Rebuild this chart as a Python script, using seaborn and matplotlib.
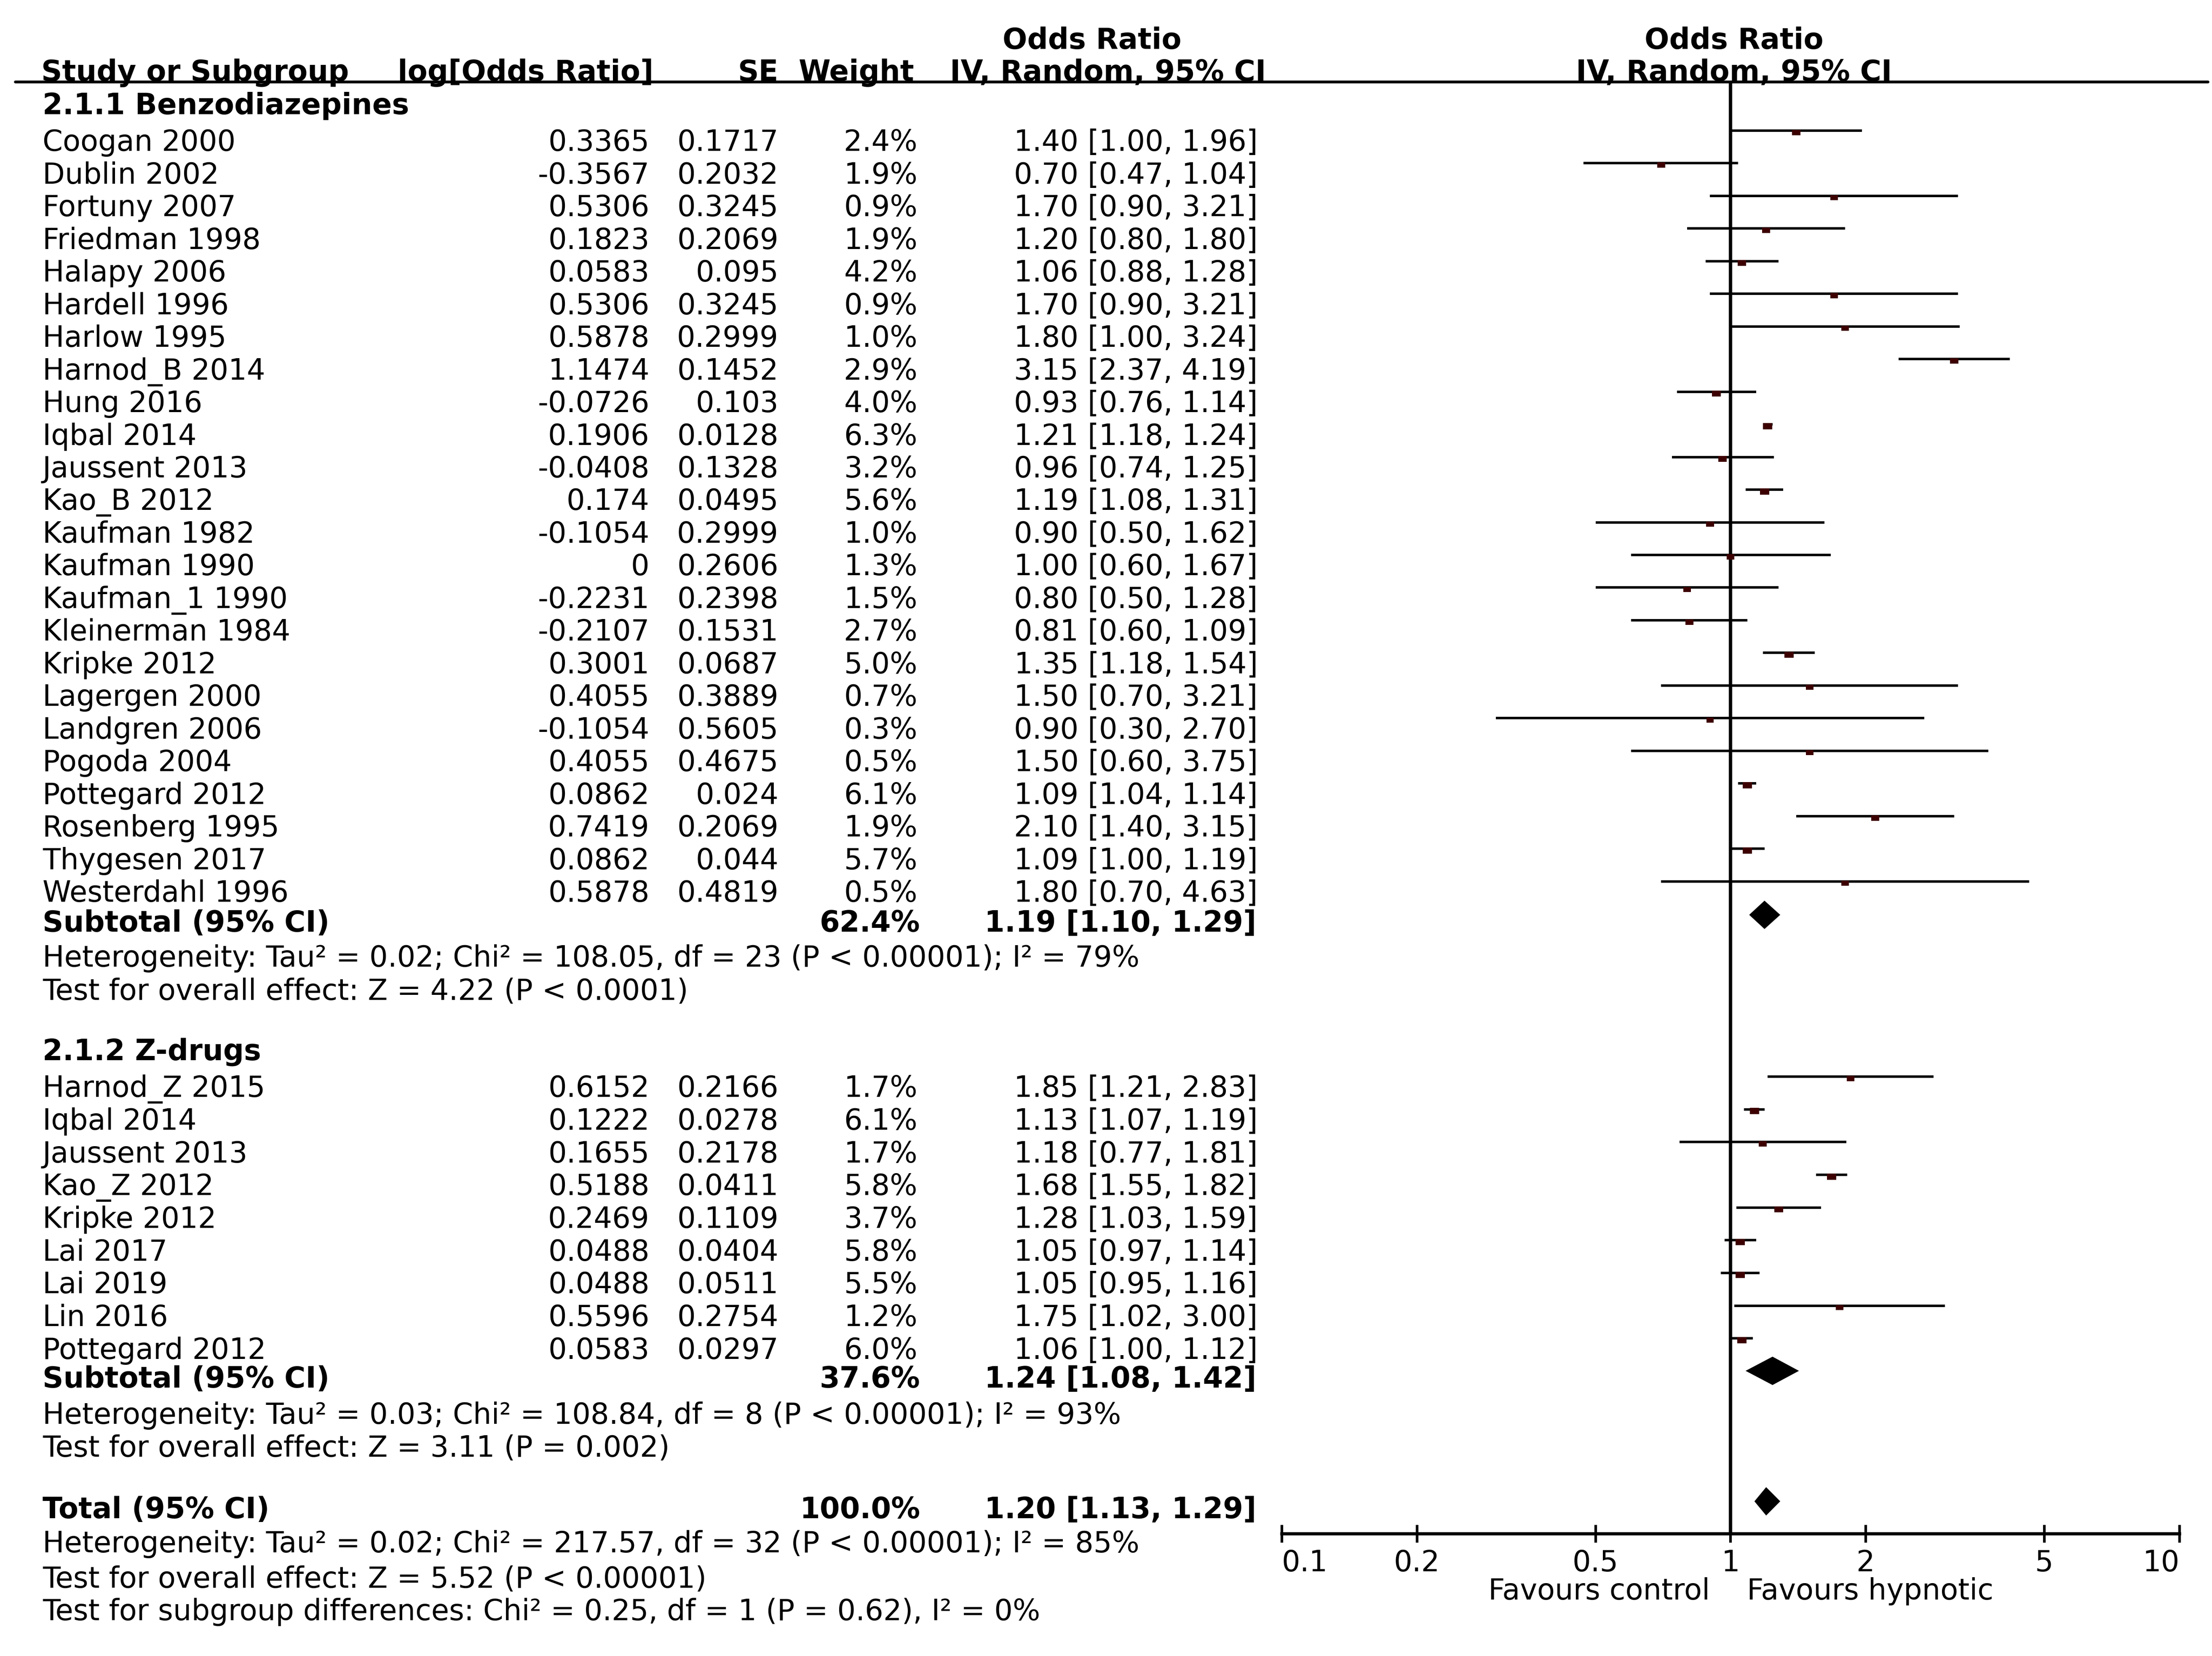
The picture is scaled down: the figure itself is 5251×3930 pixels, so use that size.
import numpy as np
import pandas as pd
import seaborn as sns
import matplotlib.pyplot as plt
from matplotlib.lines import Line2D

# ---- data: 2.1.1 Benzodiazepines ----
benzo_study = ["Coogan 2000", "Dublin 2002", "Fortuny 2007", "Friedman 1998", "Halapy 2006",
               "Hardell 1996", "Harlow 1995", "Harnod_B 2014", "Hung 2016", "Iqbal 2014",
               "Jaussent 2013", "Kao_B 2012", "Kaufman 1982", "Kaufman 1990", "Kaufman_1 1990",
               "Kleinerman 1984", "Kripke 2012", "Lagergen 2000", "Landgren 2006", "Pogoda 2004",
               "Pottegard 2012", "Rosenberg 1995", "Thygesen 2017", "Westerdahl 1996"]
benzo_log_or = [0.3365, -0.3567, 0.5306, 0.1823, 0.0583, 0.5306, 0.5878, 1.1474, -0.0726, 0.1906,
                -0.0408, 0.174, -0.1054, 0, -0.2231, -0.2107, 0.3001, 0.4055, -0.1054, 0.4055,
                0.0862, 0.7419, 0.0862, 0.5878]
benzo_se = [0.1717, 0.2032, 0.3245, 0.2069, 0.095, 0.3245, 0.2999, 0.1452, 0.103, 0.0128,
            0.1328, 0.0495, 0.2999, 0.2606, 0.2398, 0.1531, 0.0687, 0.3889, 0.5605, 0.4675,
            0.024, 0.2069, 0.044, 0.4819]
benzo_weight = [2.4, 1.9, 0.9, 1.9, 4.2, 0.9, 1.0, 2.9, 4.0, 6.3, 3.2, 5.6, 1.0, 1.3, 1.5, 2.7,
                5.0, 0.7, 0.3, 0.5, 6.1, 1.9, 5.7, 0.5]
benzo_or = [1.40, 0.70, 1.70, 1.20, 1.06, 1.70, 1.80, 3.15, 0.93, 1.21, 0.96, 1.19, 0.90, 1.00,
            0.80, 0.81, 1.35, 1.50, 0.90, 1.50, 1.09, 2.10, 1.09, 1.80]
benzo_lo = [1.00, 0.47, 0.90, 0.80, 0.88, 0.90, 1.00, 2.37, 0.76, 1.18, 0.74, 1.08, 0.50, 0.60,
            0.50, 0.60, 1.18, 0.70, 0.30, 0.60, 1.04, 1.40, 1.00, 0.70]
benzo_hi = [1.96, 1.04, 3.21, 1.80, 1.28, 3.21, 3.24, 4.19, 1.14, 1.24, 1.25, 1.31, 1.62, 1.67,
            1.28, 1.09, 1.54, 3.21, 2.70, 3.75, 1.14, 3.15, 1.19, 4.63]

# ---- data: 2.1.2 Z-drugs ----
z_study = ["Harnod_Z 2015", "Iqbal 2014", "Jaussent 2013", "Kao_Z 2012", "Kripke 2012",
           "Lai 2017", "Lai 2019", "Lin 2016", "Pottegard 2012"]
z_log_or = [0.6152, 0.1222, 0.1655, 0.5188, 0.2469, 0.0488, 0.0488, 0.5596, 0.0583]
z_se = [0.2166, 0.0278, 0.2178, 0.0411, 0.1109, 0.0404, 0.0511, 0.2754, 0.0297]
z_weight = [1.7, 6.1, 1.7, 5.8, 3.7, 5.8, 5.5, 1.2, 6.0]
z_or = [1.85, 1.13, 1.18, 1.68, 1.28, 1.05, 1.05, 1.75, 1.06]
z_lo = [1.21, 1.07, 0.77, 1.55, 1.03, 0.97, 0.95, 1.02, 1.00]
z_hi = [2.83, 1.19, 1.81, 1.82, 1.59, 1.14, 1.16, 3.00, 1.12]

# ---- pooled results ----
group_names = ["2.1.1 Benzodiazepines", "2.1.2 Z-drugs"]
sub_weight = [62.4, 37.6]
sub_or = [1.19, 1.24]
sub_lo = [1.10, 1.08]
sub_hi = [1.29, 1.42]
sub_notes = [
    ["Heterogeneity: Tau² = 0.02; Chi² = 108.05, df = 23 (P < 0.00001); I² = 79%",
     "Test for overall effect: Z = 4.22 (P < 0.0001)"],
    ["Heterogeneity: Tau² = 0.03; Chi² = 108.84, df = 8 (P < 0.00001); I² = 93%",
     "Test for overall effect: Z = 3.11 (P = 0.002)"],
]
total_weight = 100.0
total_or, total_lo, total_hi = 1.20, 1.13, 1.29
total_notes = ["Heterogeneity: Tau² = 0.02; Chi² = 217.57, df = 32 (P < 0.00001); I² = 85%",
               "Test for overall effect: Z = 5.52 (P < 0.00001)",
               "Test for subgroup differences: Chi² = 0.25, df = 1 (P = 0.62), I² = 0%"]

axis_ticks = [0.1, 0.2, 0.5, 1, 2, 5, 10]
axis_labels = ["0.1", "0.2", "0.5", "1", "2", "5", "10"]

# ---- layout (in units of a 1560 px wide reference) ----
S = 5251 / 1560
W = 1560
H = 3930 / S
FS = 16.5
CAP = 7.4   # half cap height in layout px


def fx(x):
    return x / W


def fy(y):
    return 1 - y / H


def put(x, y, s, ha="left", bold=False):
    # y is the vertical centre of the capitals
    fig.text(fx(x), fy(y + CAP), s, ha=ha, va="baseline", fontsize=FS,
             fontweight="bold" if bold else "normal", color="black")


def ci_str(o, l, h):
    return f"{o:.2f} [{l:.2f}, {h:.2f}]"


sns.set_style("white")
plt.rcParams["font.family"] = ["DejaVu Sans"]

fig = plt.figure(figsize=(5251 / 300, 3930 / 300), dpi=300)

# header
put(770, 27, "Odds Ratio", ha="center", bold=True)
put(1223, 27, "Odds Ratio", ha="center", bold=True)
put(29, 49.5, "Study or Subgroup", bold=True)
put(461, 49.5, "log[Odds Ratio]", ha="right", bold=True)
put(549, 49.5, "SE", ha="right", bold=True)
put(645, 49.5, "Weight", ha="right", bold=True)
put(893, 49.5, "IV, Random, 95% CI", ha="right", bold=True)
put(1223, 49.5, "IV, Random, 95% CI", ha="center", bold=True)
fig.add_artist(Line2D([fx(10.6), fx(1557)], [fy(57.5), fy(57.5)],
                      transform=fig.transFigure, color="black", lw=1.6))

groups = [
    dict(name=group_names[0], head_y=73, first_y=99, step=23.02,
         study=benzo_study, log_or=benzo_log_or, se=benzo_se, weight=benzo_weight,
         o=benzo_or, lo=benzo_lo, hi=benzo_hi, sub_y=649.5, note_y=[674, 697.5]),
    dict(name=group_names[1], head_y=740, first_y=766, step=23.08,
         study=z_study, log_or=z_log_or, se=z_se, weight=z_weight,
         o=z_or, lo=z_lo, hi=z_hi, sub_y=971, note_y=[996.5, 1019.6]),
]

rows = []
diamonds = []
for gi, g in enumerate(groups):
    put(30, g["head_y"], g["name"], bold=True)
    ys = g["first_y"] + g["step"] * np.arange(len(g["study"]))
    for i, y in enumerate(ys):
        put(30, y, g["study"][i])
        put(458, y, f"{g['log_or'][i]:g}", ha="right")
        put(549, y, f"{g['se'][i]:g}", ha="right")
        put(647, y, f"{g['weight'][i]:.1f}%", ha="right")
        put(887, y, ci_str(g["o"][i], g["lo"][i], g["hi"][i]), ha="right")
        rows.append(dict(study=g["study"][i], y=y - 7, odds=g["o"][i], lo=g["lo"][i],
                         hi=g["hi"][i], weight=g["weight"][i]))
    put(30, g["sub_y"], "Subtotal (95% CI)", bold=True)
    put(649, g["sub_y"], f"{sub_weight[gi]:.1f}%", ha="right", bold=True)
    put(886, g["sub_y"], ci_str(sub_or[gi], sub_lo[gi], sub_hi[gi]), ha="right", bold=True)
    for ny, note in zip(g["note_y"], sub_notes[gi]):
        put(30, ny, note)
    diamonds.append((sub_lo[gi], sub_or[gi], sub_hi[gi], g["sub_y"] - 4.5))

put(30, 1063, "Total (95% CI)", bold=True)
put(649, 1063, f"{total_weight:.1f}%", ha="right", bold=True)
put(886, 1063, ci_str(total_or, total_lo, total_hi), ha="right", bold=True)
for ny, note in zip([1087, 1112, 1135], total_notes):
    put(30, ny, note)
diamonds.append((total_lo, total_or, total_hi, 1063 - 4.5))

df = pd.DataFrame(rows)
df["y_sq"] = df["y"] + 1.3

# ---- forest panel ----
ax_top, ax_bot, ax_l, ax_r = 57.5, 1081.4, 904, 1537
ax = fig.add_axes([fx(ax_l), fy(ax_bot), (ax_r - ax_l) / W, (ax_bot - ax_top) / H])
ax.set_xscale("log")
ax.set_xlim(0.1, 10)
ax.set_ylim(ax_bot, ax_top)

ax.axvline(1, color="black", lw=1.9, zorder=1)
ax.hlines(df["y"], df["lo"], df["hi"], color="black", lw=1.4, zorder=2)
rect = [(-1, -0.68), (1, -0.68), (1, 0.68), (-1, 0.68), (-1, -0.68)]
sns.scatterplot(data=df, x="odds", y="y_sq", size="weight", sizes=(4.2 ** 2, 5.3 ** 2),
                size_norm=(0.3, 6.3), marker=rect, color="#3d0000", edgecolor="none",
                linewidth=0, legend=False, ax=ax, zorder=3)
for lo, est, hi, yc in diamonds:
    ax.fill([lo, est, hi, est], [yc, yc - 10, yc, yc + 10], color="black", lw=0, zorder=4)

for side in ["top", "left", "right"]:
    ax.spines[side].set_visible(False)
ax.spines["bottom"].set_linewidth(1.8)
ax.spines["bottom"].set_color("black")
ax.set_xticks(axis_ticks)
ax.set_xticklabels(axis_labels)
ax.xaxis.set_minor_locator(plt.NullLocator())
ax.tick_params(axis="x", bottom=True, direction="inout", length=10, width=1.5, pad=3.6,
               labelsize=FS, colors="black")
tick_texts = ax.get_xticklabels()
tick_texts[0].set_ha("left")
tick_texts[-1].set_ha("right")
ax.set_yticks([])
ax.set_xlabel("")
ax.set_ylabel("")
ax.patch.set_alpha(0)

put(1206, 1120.3, "Favours control", ha="right")
put(1232, 1120.3, "Favours hypnotic")

plt.savefig("out.png", dpi=300)
